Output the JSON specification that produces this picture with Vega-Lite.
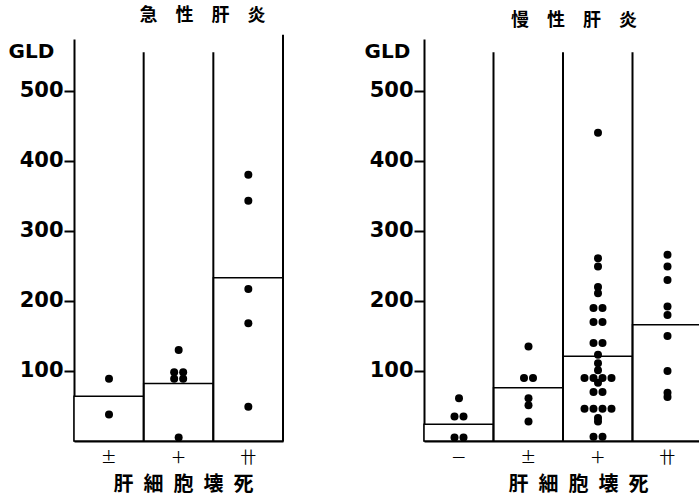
{
  "$schema": "https://vega.github.io/schema/vega-lite/v6.json",
  "background": "white",
  "padding": {"left": 8, "top": 6, "right": 0, "bottom": 0},
  "config": {
    "view": {"stroke": null},
    "axis": {"domainColor": "black", "domainWidth": 2, "tickColor": "black", "tickWidth": 2, "grid": false, "labelColor": "black", "titleColor": "black"},
    "axisY": {"labelFont": "DejaVu Sans", "labelFontWeight": "bold", "labelFontSize": 21, "tickSize": 10, "labelPadding": 1, "titleFont": "DejaVu Sans", "titleFontWeight": "bold", "titleFontSize": 20, "titleAngle": 0, "titleAlign": "left", "titleBaseline": "middle", "titleY": 12},
    "axisX": {"labelFont": "Noto Sans CJK JP", "labelFontSize": 16, "labelAngle": 0, "ticks": false, "labelPadding": 8, "titleFont": "Noto Sans CJK JP", "titleFontWeight": "bold", "titleFontSize": 20, "titleBaseline": "middle", "titleY": 43, "titleAlign": "center"},
    "title": {"font": "Noto Sans CJK JP", "fontWeight": "bold", "fontSize": 18, "color": "black", "offset": 9},
    "concat": {"spacing": 80}
  },
  "datasets": {
    "acuteMean": [
      {"cat": "±", "mean": 64},
      {"cat": "＋", "mean": 82},
      {"cat": "卄", "mean": 233}
    ],
    "acutePts": [
      {"cat": "±", "GLD": 89}, {"cat": "±", "GLD": 38},
      {"cat": "＋", "GLD": 130}, {"cat": "＋", "GLD": 98}, {"cat": "＋", "GLD": 98}, {"cat": "＋", "GLD": 89}, {"cat": "＋", "GLD": 89}, {"cat": "＋", "GLD": 5},
      {"cat": "卄", "GLD": 380}, {"cat": "卄", "GLD": 343}, {"cat": "卄", "GLD": 217}, {"cat": "卄", "GLD": 168}, {"cat": "卄", "GLD": 49}
    ],
    "chronicMean": [
      {"cat": "－", "mean": 24},
      {"cat": "±", "mean": 76},
      {"cat": "＋", "mean": 121},
      {"cat": "卄", "mean": 166}
    ],
    "chronicPts": [
      {"cat": "－", "GLD": 61}, {"cat": "－", "GLD": 35}, {"cat": "－", "GLD": 35}, {"cat": "－", "GLD": 5}, {"cat": "－", "GLD": 5},
      {"cat": "±", "GLD": 135}, {"cat": "±", "GLD": 90}, {"cat": "±", "GLD": 90}, {"cat": "±", "GLD": 61}, {"cat": "±", "GLD": 51}, {"cat": "±", "GLD": 28},
      {"cat": "＋", "GLD": 440}, {"cat": "＋", "GLD": 261}, {"cat": "＋", "GLD": 249}, {"cat": "＋", "GLD": 220}, {"cat": "＋", "GLD": 211},
      {"cat": "＋", "GLD": 190}, {"cat": "＋", "GLD": 190}, {"cat": "＋", "GLD": 170}, {"cat": "＋", "GLD": 170},
      {"cat": "＋", "GLD": 140}, {"cat": "＋", "GLD": 140}, {"cat": "＋", "GLD": 123}, {"cat": "＋", "GLD": 111}, {"cat": "＋", "GLD": 101},
      {"cat": "＋", "GLD": 90}, {"cat": "＋", "GLD": 90}, {"cat": "＋", "GLD": 90}, {"cat": "＋", "GLD": 90}, {"cat": "＋", "GLD": 83},
      {"cat": "＋", "GLD": 70}, {"cat": "＋", "GLD": 70}, {"cat": "＋", "GLD": 46}, {"cat": "＋", "GLD": 46}, {"cat": "＋", "GLD": 46}, {"cat": "＋", "GLD": 46},
      {"cat": "＋", "GLD": 33}, {"cat": "＋", "GLD": 28}, {"cat": "＋", "GLD": 6}, {"cat": "＋", "GLD": 6},
      {"cat": "卄", "GLD": 266}, {"cat": "卄", "GLD": 249}, {"cat": "卄", "GLD": 230}, {"cat": "卄", "GLD": 192}, {"cat": "卄", "GLD": 180}, {"cat": "卄", "GLD": 150}, {"cat": "卄", "GLD": 100}, {"cat": "卄", "GLD": 69}, {"cat": "卄", "GLD": 63}
    ]
  },
  "hconcat": [
    {
      "width": 209, "height": 402,
      "title": {"text": "急\u2003性\u2003肝\u2003炎", "dx": 24},
      "resolve": {"scale": {"xOffset": "independent"}},
      "layer": [
        {"data": {"name": "acuteMean"}, "mark": {"type": "bar", "fill": "white", "stroke": "black", "strokeWidth": 1.5},
         "encoding": {
           "x": {"field": "cat", "type": "nominal", "title": "肝\u2002細\u2002胞\u2002壊\u2002死", "scale": {"domain": ["±", "＋", "卄"], "paddingInner": 0, "paddingOuter": 0}, "axis": {"titleX": 109}},
           "y": {"field": "mean", "type": "quantitative", "title": "GLD", "scale": {"domain": [0, 574], "nice": false}, "axis": {"titleX": -66, "values": [100, 200, 300, 400, 500]}}}},
        {"data": {"name": "acuteMean"}, "mark": {"type": "rule", "color": "black", "strokeWidth": 2},
         "encoding": {
           "x": {"field": "cat", "type": "nominal", "bandPosition": 1, "title": "肝\u2002細\u2002胞\u2002壊\u2002死"},
           "y": {"datum": 0, "title": "GLD"}, "y2": {"datum": 555}}},
        {"data": {"name": "acuteMean"}, "transform": [{"filter": "datum.cat == '卄'"}], "mark": {"type": "rule", "color": "black", "strokeWidth": 2},
         "encoding": {
           "x": {"field": "cat", "type": "nominal", "bandPosition": 1, "title": "肝\u2002細\u2002胞\u2002壊\u2002死"},
           "y": {"datum": 0, "title": "GLD"}, "y2": {"datum": 580}}},
        {"data": {"name": "acutePts"},
         "transform": [
           {"window": [{"op": "row_number", "as": "rk"}, {"op": "count", "as": "n"}], "groupby": ["cat", "GLD"], "frame": [null, null]},
           {"calculate": "datum.rk - (datum.n + 1) / 2", "as": "off"}
         ],
         "mark": {"type": "point", "filled": true, "color": "black", "opacity": 1, "size": 64},
         "encoding": {
           "x": {"field": "cat", "type": "nominal", "title": "肝\u2002細\u2002胞\u2002壊\u2002死"},
           "y": {"field": "GLD", "type": "quantitative", "title": "GLD"},
           "xOffset": {"field": "off", "type": "quantitative", "scale": {"domain": [-2, 2], "range": [17, 53]}}}}
      ]
    },
    {
      "width": 278, "height": 402,
      "title": {"text": "慢\u2003性\u2003肝\u2003炎", "dx": 11},
      "resolve": {"scale": {"xOffset": "independent"}},
      "layer": [
        {"data": {"name": "chronicMean"}, "mark": {"type": "bar", "fill": "white", "stroke": "black", "strokeWidth": 1.5},
         "encoding": {
           "x": {"field": "cat", "type": "nominal", "title": "肝\u2002細\u2002胞\u2002壊\u2002死", "scale": {"domain": ["－", "±", "＋", "卄"], "paddingInner": 0, "paddingOuter": 0}, "axis": {"titleX": 154}},
           "y": {"field": "mean", "type": "quantitative", "title": "GLD", "scale": {"domain": [0, 574], "nice": false}, "axis": {"titleX": -60, "values": [100, 200, 300, 400, 500]}}}},
        {"data": {"name": "chronicMean"}, "mark": {"type": "rule", "color": "black", "strokeWidth": 2},
         "encoding": {
           "x": {"field": "cat", "type": "nominal", "bandPosition": 1, "title": "肝\u2002細\u2002胞\u2002壊\u2002死"},
           "y": {"datum": 0, "title": "GLD"}, "y2": {"datum": 555}}},
        {"data": {"name": "chronicPts"},
         "transform": [
           {"window": [{"op": "row_number", "as": "rk"}, {"op": "count", "as": "n"}], "groupby": ["cat", "GLD"], "frame": [null, null]},
           {"calculate": "datum.rk - (datum.n + 1) / 2", "as": "off"}
         ],
         "mark": {"type": "point", "filled": true, "color": "black", "opacity": 1, "size": 64},
         "encoding": {
           "x": {"field": "cat", "type": "nominal", "title": "肝\u2002細\u2002胞\u2002壊\u2002死"},
           "y": {"field": "GLD", "type": "quantitative", "title": "GLD"},
           "xOffset": {"field": "off", "type": "quantitative", "scale": {"domain": [-2, 2], "range": [17, 53]}}}}
      ]
    }
  ]
}
